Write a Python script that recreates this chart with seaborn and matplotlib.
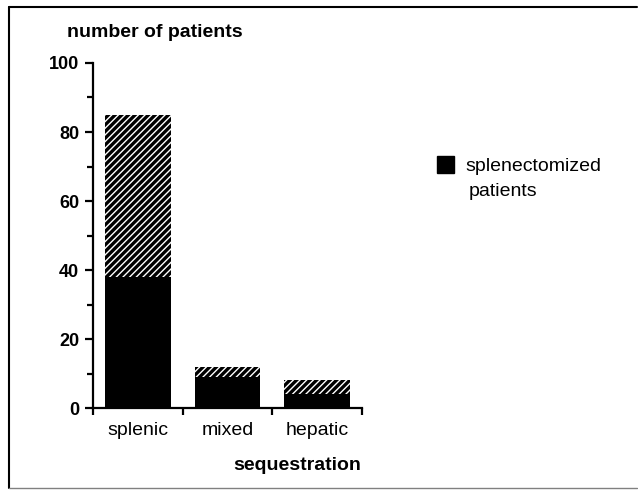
import pandas as pd
import seaborn as sns
import matplotlib.pyplot as plt
from matplotlib.patches import Patch
from matplotlib.ticker import FixedLocator, MultipleLocator

categories = ["splenic", "mixed", "hepatic"]
all_patients = [85, 12, 8]
splenectomized = [38, 9, 4]

df = pd.DataFrame({"sequestration": categories,
                   "total": all_patients,
                   "splenectomized": splenectomized})

sns.set_style("ticks", {"text.color": "black", "axes.labelcolor": "black",
                        "xtick.color": "black", "ytick.color": "black",
                        "axes.edgecolor": "black"})
plt.rcParams['font.family'] = ['Liberation Sans', 'DejaVu Sans']
plt.rcParams['hatch.color'] = 'white'
plt.rcParams['hatch.linewidth'] = 1.0

fig = plt.figure(figsize=(6.38, 4.91), dpi=100)
ax = fig.add_axes([0.1458, 0.169, 0.4216, 0.7027])

# total (hatched part), then splenectomized on top in solid black
sns.barplot(data=df, x="sequestration", y="total", color="black",
            width=0.73, saturation=1, ax=ax)
for p in ax.patches:
    p.set_hatch("/////")
    p.set_edgecolor("white")
    p.set_linewidth(0)
n_hatched = len(ax.patches)
sns.barplot(data=df, x="sequestration", y="splenectomized", color="black",
            width=0.73, saturation=1, ax=ax)
for p in ax.patches[n_hatched:]:
    p.set_linewidth(0)

ax.set_xlim(-0.5, 2.5)
ax.set_ylim(0, 100)
sns.despine(ax=ax)
for s in ["left", "bottom"]:
    ax.spines[s].set_linewidth(1.6)

ax.yaxis.set_major_locator(MultipleLocator(20))
ax.yaxis.set_minor_locator(MultipleLocator(10))
ax.xaxis.set_minor_locator(FixedLocator([-0.5, 0.5, 1.5, 2.5]))
ax.tick_params(axis="y", which="major", length=6, width=1.6,
               labelsize=13, pad=4)
ax.tick_params(axis="y", which="minor", length=4, width=1.6)
ax.tick_params(axis="x", which="major", length=0, labelsize=14, pad=10)
ax.tick_params(axis="x", which="minor", length=5, width=1.6)
for lab in ax.get_yticklabels():
    lab.set_fontweight("bold")

ax.set_ylabel("")
ax.set_xlabel("sequestration", fontsize=14, fontweight="bold")
ax.xaxis.set_label_coords(0.76, -0.142)

fig.text(0.105, 0.925, "number of patients", fontsize=14,
         fontweight="bold", ha="left", va="baseline")

handles = [Patch(facecolor="black", edgecolor="black")]
fig.legend(handles, ["splenectomized"], loc="upper left",
           bbox_to_anchor=(0.672, 0.699), frameon=False, fontsize=14,
           handlelength=0.9, handleheight=1.0, handletextpad=0.6,
           borderaxespad=0)
fig.text(0.734, 0.601, "patients", fontsize=14, ha="left", va="baseline")

# outer frame
fig.add_artist(plt.Line2D([0.014, 0.014], [0.006, 0.986], color="black",
                          lw=1.5, transform=fig.transFigure))
fig.add_artist(plt.Line2D([0.014, 0.998], [0.986, 0.986], color="black",
                          lw=1.5, transform=fig.transFigure))
fig.add_artist(plt.Line2D([0.014, 0.998], [0.006, 0.006], color="grey",
                          lw=1.0, transform=fig.transFigure))

fig.savefig("out.png", dpi=100)
